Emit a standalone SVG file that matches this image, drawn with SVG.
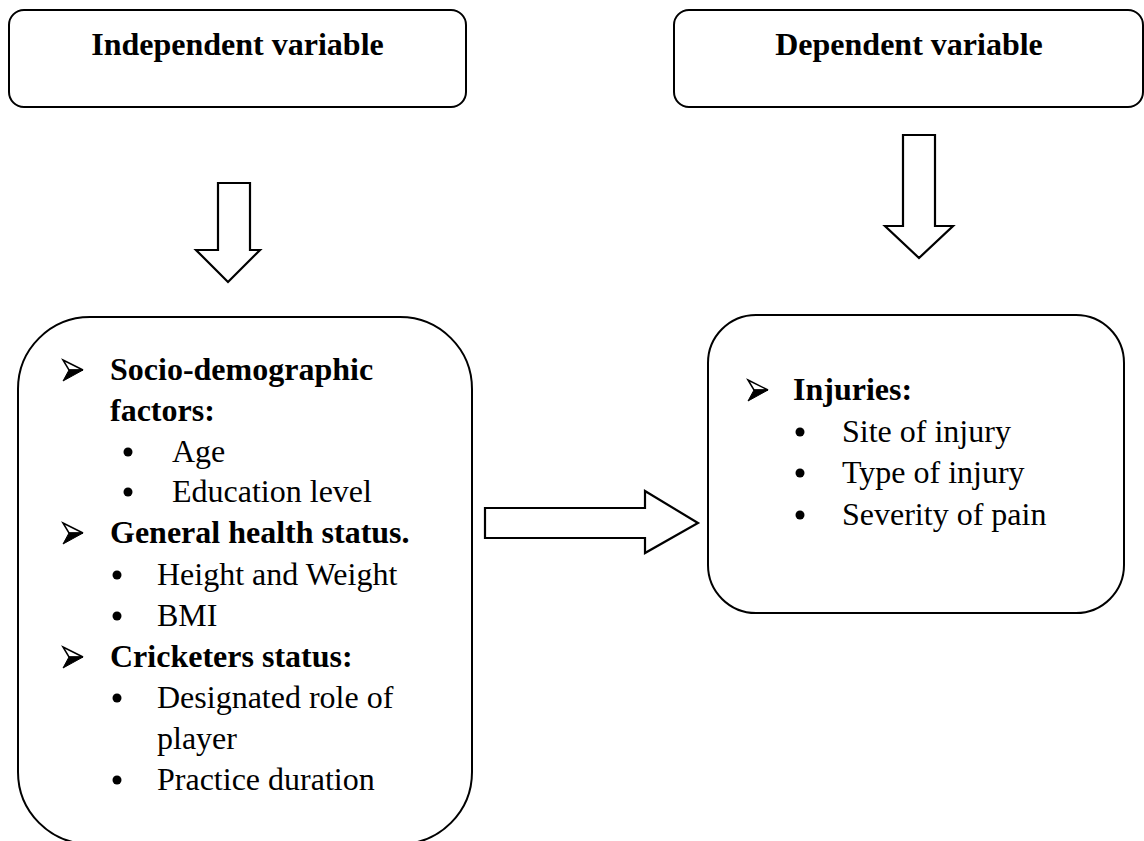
<svg xmlns="http://www.w3.org/2000/svg" width="1144" height="841" viewBox="0 0 1144 841">
<style>
  .box { fill: #fff; stroke: #000; stroke-width: 2; }
  .arr { fill: #fff; stroke: #000; stroke-width: 2.2; stroke-linejoin: miter; }
  .t { font-family: "Liberation Serif", "Times New Roman", serif; font-size: 32px; fill: #000; }
  .b { font-weight: bold; }
</style>
<defs>
  <g id="dart">
    <polygon points="0,-10 20,0 6,0" fill="#fff" stroke="#000" stroke-width="1.5" stroke-linejoin="miter"/>
    <polygon points="6,0 20,0 0,11" fill="#000" stroke="#000" stroke-width="1"/>
  </g>
</defs>
<rect width="1144" height="841" fill="#fff"/>

<g id="independent-header">
  <rect class="box" x="9" y="10" width="457" height="97" rx="15" ry="15"/>
  <text class="t b" x="237.5" y="55" text-anchor="middle">Independent variable</text>
</g>

<g id="dependent-header">
  <rect class="box" x="674" y="10" width="469" height="97" rx="15" ry="15"/>
  <text class="t b" x="909" y="55" text-anchor="middle">Dependent variable</text>
</g>

<g id="independent-factors">
  <rect class="box" x="18" y="317" width="454" height="527" rx="72" ry="72"/>
  <use href="#dart" x="63" y="370"/>
  <text class="t b" x="110" y="380">Socio-demographic</text>
  <text class="t b" x="110" y="421">factors:</text>
  <circle cx="128" cy="452" r="4.5"/>
  <text class="t" x="172" y="462">Age</text>
  <circle cx="128" cy="492" r="4.5"/>
  <text class="t" x="172" y="502">Education level</text>
  <use href="#dart" x="63" y="533"/>
  <text class="t b" x="110" y="543">General health status.</text>
  <circle cx="117" cy="575" r="4.5"/>
  <text class="t" x="157" y="585">Height and Weight</text>
  <circle cx="117" cy="616" r="4.5"/>
  <text class="t" x="157" y="626">BMI</text>
  <use href="#dart" x="63" y="657"/>
  <text class="t b" x="110" y="667">Cricketers status:</text>
  <circle cx="117" cy="698" r="4.5"/>
  <text class="t" x="157" y="708">Designated role of</text>
  <text class="t" x="157" y="749">player</text>
  <circle cx="117" cy="780" r="4.5"/>
  <text class="t" x="157" y="790">Practice duration</text>
</g>

<g id="dependent-factors">
  <rect class="box" x="708" y="315" width="416" height="298" rx="48" ry="48"/>
  <use href="#dart" x="748" y="390"/>
  <text class="t b" x="793" y="400">Injuries:</text>
  <circle cx="800" cy="432" r="4.5"/>
  <text class="t" x="842" y="442">Site of injury</text>
  <circle cx="800" cy="473" r="4.5"/>
  <text class="t" x="842" y="483">Type of injury</text>
  <circle cx="800" cy="515" r="4.5"/>
  <text class="t" x="842" y="525">Severity of pain</text>
</g>

<g id="connectors">
  <polygon class="arr" points="218,183 250,183 250,250 260,250 228,282 196,250 218,250"/>
  <polygon class="arr" points="903,135 935,135 935,226 953,226 919,258 885,226 903,226"/>
  <polygon class="arr" points="485,508 645,508 645,491 698,523 645,553 645,538 485,538"/>
</g>
</svg>
